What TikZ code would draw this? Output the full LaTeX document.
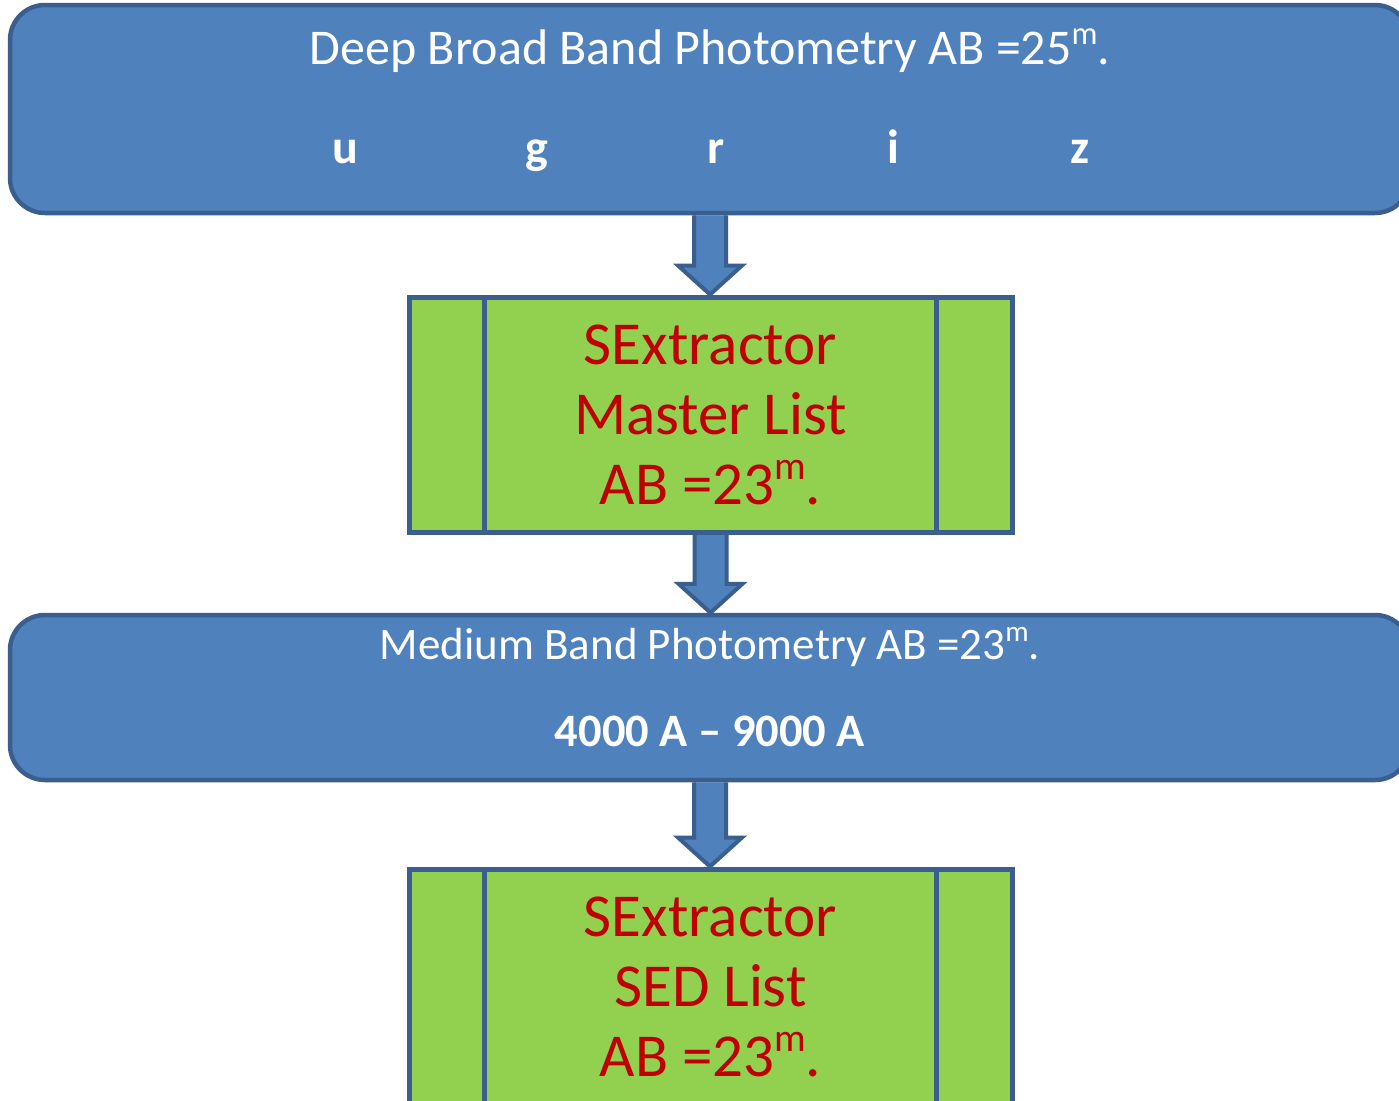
\documentclass[tikz,border=0pt]{standalone}
\usepackage{fontspec}
\setmainfont{Carlito}
\usetikzlibrary{calc}
\definecolor{bfill}{HTML}{4F81BD}
\definecolor{bline}{HTML}{3A5F8E}
\definecolor{gfill}{HTML}{92D050}
\definecolor{rtext}{HTML}{C00000}
\pgfdeclarelayer{bg}
\pgfsetlayers{bg,main}
\newcommand\supm{\raisebox{0.4em}{\scalebox{0.65}{m}}}
\newcommand\myblockarrow[2]{%
  \path let \p1=(#1.south), \p2=(#2.north) in
    [arrowshape] (\x1-16,\y1) -- (\x1-16,\y2+29) -- (\x1-32,\y2+29) -- (\x1,\y2)
    -- (\x1+32,\y2+29) -- (\x1+16,\y2+29) -- (\x1+16,\y1);}
\begin{document}
\begin{tikzpicture}[x=1pt,y=-1pt,
  bluebox/.style={draw=bline,fill=bfill,line width=4.5pt,rounded corners=35pt,
    minimum width=1400pt,inner sep=0pt},
  greenbox/.style={draw=bline,fill=gfill,line width=5pt,minimum width=603pt,
    minimum height=235pt,inner sep=0pt,align=center,text=rtext,
    font=\fontsize{61}{70}\selectfont},
  gline/.style={draw=bline,line width=5pt},
  arrowshape/.style={draw=bline,fill=bfill,line width=4pt,line join=miter},
  wtitle/.style={text=white,anchor=base,inner sep=0pt},
  band/.style={text=white,anchor=base,inner sep=0pt,font=\fontsize{48}{56}\selectfont\bfseries}
]
\clip (0,0) rectangle (1399,1100);
% boxes
\node[bluebox,minimum height=208pt] (top) at (710,109) {};
\node[greenbox] (g1) at (710.5,414.5) {SExtractor\\Master List\\AB =23\supm.};
\node[bluebox,minimum height=165pt] (mid) at (710,697.5) {};
\node[greenbox] (g2) at (710.5,986.5) {SExtractor\\SED List\\AB =23\supm.};
% inner lines of green boxes
\draw[gline] ([xshift=78pt]g1.north west) -- ([xshift=78pt]g1.south west);
\draw[gline] ([xshift=-78pt]g1.north east) -- ([xshift=-78pt]g1.south east);
\draw[gline] ([xshift=78pt]g2.north west) -- ([xshift=78pt]g2.south west);
\draw[gline] ([xshift=-78pt]g2.north east) -- ([xshift=-78pt]g2.south east);
% texts
\node[wtitle,font=\fontsize{50}{56}\selectfont] (t1) at (710,64) {Deep Broad Band Photometry AB =25\supm.};
\node[band] (bu) at (345,163) {u};
\node[band] (bg) at (537,163) {g};
\node[band] (br) at (716,163) {r};
\node[band] (bi) at (893,163) {i};
\node[band] (bz) at (1080,163) {z};
\node[wtitle,font=\fontsize{45}{52}\selectfont] (t2) at (710,659) {Medium Band Photometry AB =23\supm.};
\node[wtitle,font=\fontsize{46.5}{52}\selectfont\bfseries] (t3) at (710,746) {4000 A – 9000 A};
% arrows
\begin{pgfonlayer}{bg}
\fill[white] (0,0) rectangle (1399,1100);
\myblockarrow{top}{g1}
\myblockarrow{g1}{mid}
\myblockarrow{mid}{g2}
\end{pgfonlayer}
\end{tikzpicture}
\end{document}
